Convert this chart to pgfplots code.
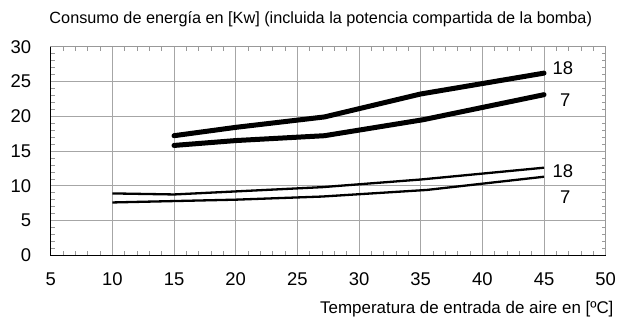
\documentclass[border=0pt]{standalone}
\usepackage{pgfplots}
\pgfplotsset{compat=1.18}
\usepackage{fontspec}
\setmainfont{Liberation Sans}
\begin{document}
\begin{tikzpicture}
\useasboundingbox (-50.7bp,-63.7bp) rectangle (568.3bp,255.3bp);
\begin{axis}[
  at={(0,0)}, anchor=south west,
  scale only axis, width=555bp, height=208.6bp,
  xmin=5, xmax=50, ymin=0, ymax=30,
  xtick={5,10,...,50}, ytick={0,5,...,30},
  minor x tick num=4, minor y tick num=4,
  grid=major,
  major grid style={gray!70, line width=0.6pt},
  axis line style={gray!80, line width=0.8pt},
  major tick length=0pt, minor tick length=4bp,
  minor tick style={gray!80, line width=0.5pt},
  tick label style={font=\fontsize{18.5}{20}\selectfont},
  /pgf/number format/assume math mode=true,
  xticklabel style={yshift=-14bp},
  yticklabel style={xshift=-16bp},
  clip=false,
]
\draw[black, line width=1.2pt] (axis cs:5,30) -- (axis cs:5,0) -- (axis cs:50,0);
\addplot[black, line width=5bp, line cap=round, line join=round] coordinates {(15,17.2) (20,18.4) (27.2,19.9) (35.0,23.2) (45,26.2)};
\addplot[black, line width=5bp, line cap=round, line join=round] coordinates {(15,15.8) (20,16.5) (27.2,17.2) (35.2,19.5) (45,23.1)};
\addplot[black, line width=2.3bp, line join=round] coordinates {(10,8.9) (15,8.75) (27,9.8) (35,10.9) (45,12.6)};
\addplot[black, line width=2.3bp, line join=round] coordinates {(10,7.6) (15,7.8) (20,8.0) (27,8.45) (35.5,9.4) (45,11.3)};
\node[anchor=west, font=\fontsize{18.5}{20}\selectfont, inner sep=1bp] at (axis cs:45.6,26.9) {18};
\node[anchor=west, font=\fontsize{18.5}{20}\selectfont, inner sep=1bp] at (axis cs:46.2,22.3) {7};
\node[anchor=west, font=\fontsize{18.5}{20}\selectfont, inner sep=1bp, fill=white] at (axis cs:45.6,12.1) {18};
\node[anchor=west, font=\fontsize{18.5}{20}\selectfont, inner sep=1bp, fill=white] at (axis cs:46.2,8.3) {7};
\end{axis}
\node[anchor=base west, font=\fontsize{16.3}{18}\selectfont, inner sep=0pt] at (-1.4bp,231.3bp) {Consumo de energía en [Kw] (incluida la potencia compartida de la bomba)};
\node[anchor=base east, font=\fontsize{17}{19}\selectfont, inner sep=0pt] at (563bp,-58bp) {Temperatura de entrada de aire en [ºC]};
\end{tikzpicture}
\end{document}
